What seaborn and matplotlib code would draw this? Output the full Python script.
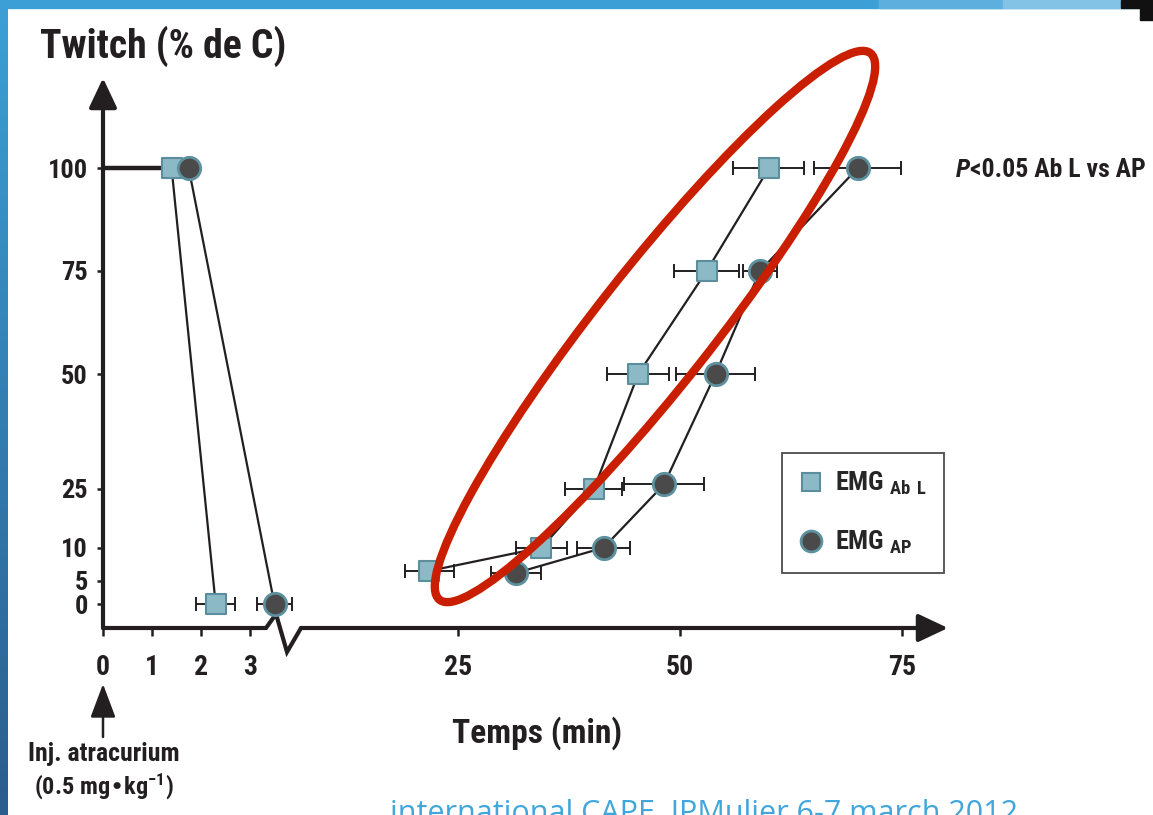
import numpy as np
import pandas as pd
import matplotlib
matplotlib.use("Agg")
import matplotlib.pyplot as plt
import seaborn as sns
from matplotlib.patches import Ellipse, Rectangle, FancyArrowPatch
from matplotlib.lines import Line2D
from matplotlib.colors import LinearSegmentedColormap

# data (time in min, twitch in % of control)
ab_t = [1.4, 2.3, 21.7, 34.4, 40.3, 45.3, 53.0, 60.0]
ab_y = [100, 0, 6.5, 10, 25, 50, 75, 100]
ab_err = [0, 0.4, 2.9, 2.9, 3.2, 3.5, 3.7, 4.0]
ab_seg = [1, 1, 2, 2, 2, 2, 2, 2]

ap_t = [1.75, 3.5, 31.5, 41.4, 48.2, 54.0, 59.0, 70.0]
ap_y = [100, 0, 6.2, 10, 26, 50, 75, 100]
ap_err = [0, 0.35, 2.8, 3.0, 4.5, 4.4, 1.9, 4.9]
ap_seg = [1, 1, 2, 2, 2, 2, 2, 2]

x_ticks = [0, 1, 2, 3, 25, 50, 75]
y_ticks = [0, 5, 10, 25, 50, 75, 100]

W, H = 1153, 815
DARK = "#231f20"
SQ_FACE, SQ_EDGE = "#8cb9c6", "#5b8d9c"
CI_FACE, CI_EDGE = "#4a4a4a", "#5e91a0"

# broken / stretched axes of the original figure -> piecewise scales
XK = np.array([-100, 0, 4, 20, 25, 75, 200])
XP = np.array([103 - 100 * 49, 103, 299, 413.6, 458, 902, 902 + 125 * 8.88])
YK = np.array([-50, 0, 5, 10, 25, 50, 75, 100, 200])
YP = H - np.array([604.3 + 50 * 4.66, 604.3, 581, 547.7, 489, 374, 271, 168.3, 168.3 - 100 * 4.12])


def fwd_x(v):
    return np.interp(v, XK, XP)


def inv_x(p):
    return np.interp(p, XP, XK)


def fwd_y(v):
    return np.interp(v, YK, YP)


def inv_y(p):
    return np.interp(p, YP, YK)


sns.set_theme(style="white")
plt.rcParams["font.family"] = ["Roboto Condensed", "Liberation Sans", "DejaVu Sans"]
plt.rcParams["font.weight"] = "bold"
plt.rcParams["mathtext.default"] = "regular"

fig = plt.figure(figsize=(W / 100, H / 100), dpi=100)

# slide decoration
bg = fig.add_axes([0, 0, 8 / W, 1])
bg.imshow(np.linspace(0, 1, 200)[:, None], aspect="auto",
          cmap=LinearSegmentedColormap.from_list("b", ["#3ca0d6", "#2b5d8d"]))
bg.axis("off")
fig.add_artist(Rectangle((0, 1 - 8 / H), 1, 8 / H, color="#3ca0d6", transform=fig.transFigure))
fig.add_artist(Rectangle((879 / W, 1 - 8 / H), 124 / W, 8 / H, color="#5db0de", transform=fig.transFigure))
fig.add_artist(Rectangle((1003 / W, 1 - 8 / H), 118 / W, 8 / H, color="#82c3e6", transform=fig.transFigure))
fig.add_artist(Rectangle((1121 / W, 1 - 8 / H), 32 / W, 8 / H, color="#111111", transform=fig.transFigure))
fig.add_artist(Rectangle((1140 / W, 1 - 20 / H), 13 / W, 20 / H, color="#111111", transform=fig.transFigure))

ax = fig.add_axes([103 / W, (H - 628) / H, (948 - 103) / W, (628 - 78) / H])
ax.set_xscale("function", functions=(fwd_x, inv_x))
ax.set_yscale("function", functions=(fwd_y, inv_y))
ax.set_xlim(0, inv_x(948))
ax.set_ylim(inv_y(H - 628), inv_y(H - 78))
ax.patch.set_alpha(0)

df_ab = pd.DataFrame({"t": ab_t, "twitch": ab_y, "seg": ab_seg})
df_ap = pd.DataFrame({"t": ap_t, "twitch": ap_y, "seg": ap_seg})

# baseline at 100 %
ax.plot([0, ab_t[0]], [ab_y[0], ab_y[0]], color=DARK, lw=3.2, zorder=2)

for df in (df_ab, df_ap):
    sns.lineplot(data=df, x="t", y="twitch", units="seg", estimator=None, sort=False,
                 color=DARK, lw=1.6, ax=ax, zorder=2)

ax.errorbar(ab_t, ab_y, xerr=ab_err, fmt="none", ecolor=DARK, elinewidth=1.4,
            capsize=5, capthick=1.4, zorder=3)
ax.errorbar(ap_t, ap_y, xerr=ap_err, fmt="none", ecolor=DARK, elinewidth=1.4,
            capsize=5, capthick=1.4, zorder=3)

sns.scatterplot(data=df_ab, x="t", y="twitch", marker="s", s=190, color=SQ_FACE,
                edgecolor=SQ_EDGE, linewidth=1.5, ax=ax, zorder=4, legend=False)
sns.scatterplot(data=df_ap, x="t", y="twitch", marker="o", s=260, color=CI_FACE,
                edgecolor=CI_EDGE, linewidth=2, ax=ax, zorder=4, legend=False)

ax.set_xticks(x_ticks)
ax.set_yticks(y_ticks)
ax.set_xticklabels([str(v) for v in x_ticks])
ax.set_yticklabels([str(v) for v in y_ticks])
ax.set_xlabel("")
ax.set_ylabel("")
ax.tick_params(axis="x", bottom=True, direction="out", length=6, width=1.8,
               color=DARK, pad=13, labelsize=20, labelcolor=DARK)
ax.tick_params(axis="y", left=True, direction="out", length=4, width=1.8,
               color=DARK, pad=7, labelsize=19, labelcolor=DARK)
for s in ax.spines.values():
    s.set_visible(False)

# hand-drawn axis lines with arrows and the break
arr = dict(arrowstyle="-|>,head_length=0.7,head_width=0.33", lw=3, color=DARK,
           shrinkA=0, shrinkB=0, mutation_scale=26)
ax.annotate("", xy=(0, 1), xytext=(0, 0), xycoords="axes fraction", arrowprops=arr)


def axfrac(px, py):
    return (px - 103) / 845, (628 - py) / 550


zz = [axfrac(103, 628), axfrac(266, 628), axfrac(276, 614), axfrac(287, 652), axfrac(301, 628)]
ax.plot([p[0] for p in zz], [p[1] for p in zz], transform=ax.transAxes, color=DARK,
        lw=3, clip_on=False, solid_joinstyle="miter")
ax.annotate("", xy=(1, 0), xytext=axfrac(301, 628), xycoords="axes fraction", arrowprops=arr)

# legend
handles = [
    Line2D([], [], marker="s", ls="none", ms=13, mfc=SQ_FACE, mec=SQ_EDGE, mew=1.5),
    Line2D([], [], marker="o", ls="none", ms=15, mfc=CI_FACE, mec=CI_EDGE, mew=2),
]
leg = ax.legend(handles, ["EMG $_{Ab\\ L}$", "EMG $_{AP}$"], loc="upper left",
                bbox_to_anchor=(782 / W, 1 - 453 / H), bbox_transform=fig.transFigure,
                prop={"size": 19, "weight": "bold"}, frameon=True, fancybox=False,
                edgecolor=DARK, labelspacing=1.2, handletextpad=0.45,
                handlelength=0.9, borderpad=0.65, borderaxespad=0)
leg.get_frame().set_linewidth(1.3)

# texts
fig.text(40 / W, 1 - 26 / H, "Twitch (% de C)", fontsize=28.5, color=DARK, va="top", ha="left")
fig.text(537 / W, 1 - 743 / H, "Temps (min)", fontsize=24, color=DARK, va="baseline", ha="center")
fig.text(956 / W, 1 - 177 / H, "P", fontsize=18.5, color=DARK, style="italic", va="baseline")
fig.text(970 / W, 1 - 177 / H, "<0.05 Ab L vs AP", fontsize=18.5, color=DARK, va="baseline")
fig.text(104 / W, 1 - 761 / H, "Inj. atracurium", fontsize=18.5, color=DARK, ha="center", va="baseline")
fig.text(104 / W, 1 - 794 / H, "(0.5 mg\u2022kg$^{-1}$)", fontsize=17.5, color=DARK, ha="center", va="baseline")
fig.text(390 / W, 1 - 822 / H, "international CAPE  JPMulier 6-7 march 2012", fontsize=22,
         color="#41a6dc", family="Open Sans", weight="normal", va="baseline", ha="left")

fig.add_artist(FancyArrowPatch(
    (103 / W, 1 - 737 / H), (103 / W, 1 - 684 / H), transform=fig.transFigure,
    arrowstyle="-|>,head_length=0.8,head_width=0.3", mutation_scale=26, lw=1.8, color=DARK,
    shrinkA=0, shrinkB=0))

# red highlight drawn on the slide
fig.add_artist(Ellipse((6.55, (H - 326.5) / 100), width=6.96, height=1.16, angle=51.75,
                       transform=fig.dpi_scale_trans, fill=False, edgecolor="#c91f00", lw=6))

fig.savefig("out.png", dpi=100)
